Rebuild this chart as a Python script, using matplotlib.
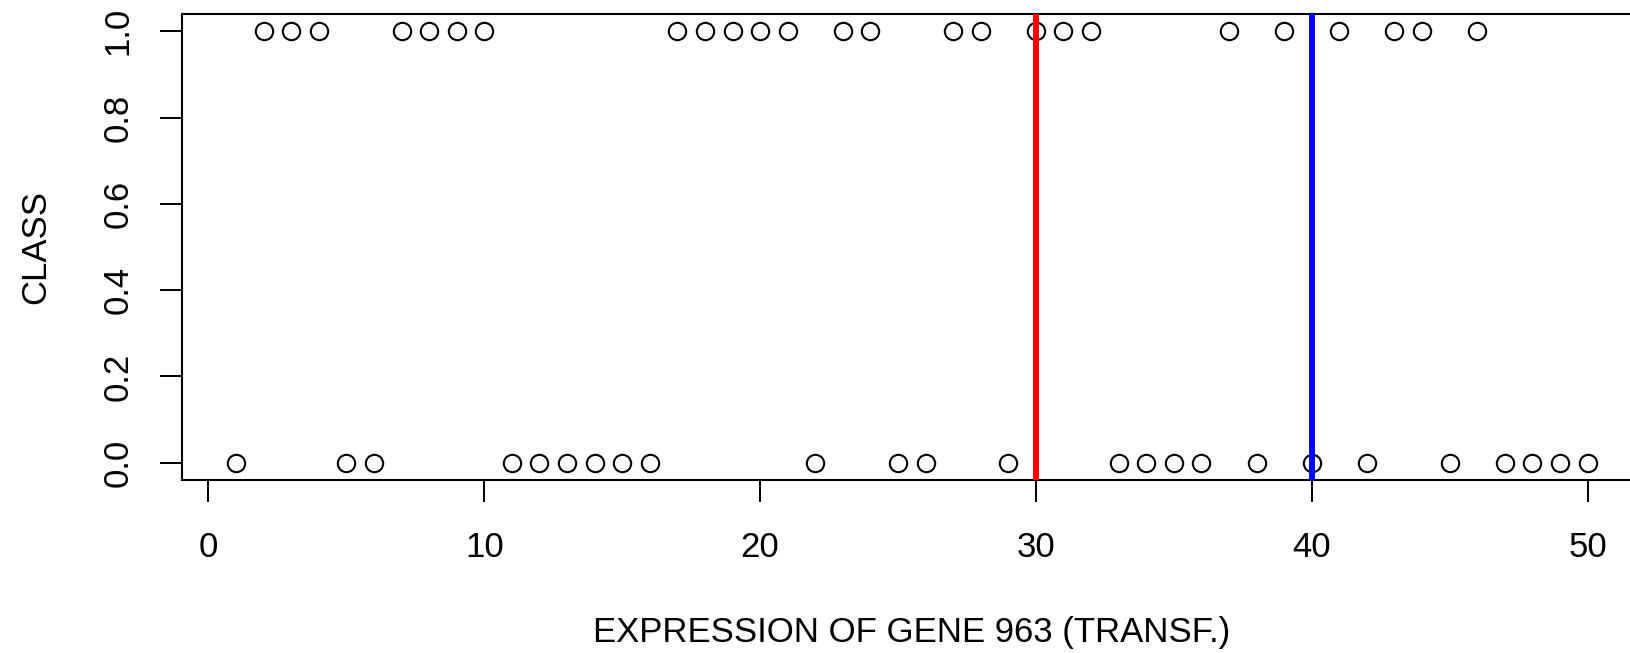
import matplotlib
matplotlib.use("Agg")
import matplotlib.pyplot as plt

x_values = list(range(1, 51))
class_one = [2, 3, 4, 7, 8, 9, 10, 17, 18, 19, 20, 21, 23, 24, 27, 28, 30, 31, 32,
             37, 39, 41, 43, 44, 46]
y_values = [1 if v in class_one else 0 for v in x_values]
red_line = 30
blue_line = 40
x_ticks = [0, 10, 20, 30, 40, 50]
y_ticks = [0.0, 0.2, 0.4, 0.6, 0.8, 1.0]

plt.rcParams['font.family'] = ['Liberation Sans', 'DejaVu Sans']

W, H = 1630, 653
fig = plt.figure(figsize=(W / 100, H / 100), dpi=100)
x0 = -0.96
x1 = 51.96
left_px = 182
right_px = 1641.6
ax = fig.add_axes([left_px / W, 1 - 480 / H, (right_px - left_px) / W, (480 - 14) / H])
ax.plot(x_values, y_values, linestyle='none', marker='o', ms=12.5, mfc='none',
        mec='black', mew=1.5, clip_on=False, zorder=2)
ax.axvline(red_line, color='#ff0000', lw=4.3, zorder=3)
ax.axvline(blue_line, color='#0000ff', lw=4.3, zorder=3)
ax.set_xlim(x0, x1)
ax.set_ylim(-0.04, 1.04)
ax.set_xticks(x_ticks)
ax.set_yticks(y_ticks)
ax.set_yticklabels([f"{v:.1f}" for v in y_ticks], rotation=90, va='center')
ax.tick_params(axis='both', length=16, width=1.4, labelsize=25)
ax.tick_params(axis='x', pad=21)
ax.tick_params(axis='y', pad=18)
for s in ax.spines.values():
    s.set_linewidth(1.5)
ax.set_xlabel("EXPRESSION OF GENE 963 (TRANSF.)", fontsize=25, labelpad=37)
ax.set_ylabel("CLASS", fontsize=25, labelpad=36)
fig.savefig("out.png", dpi=100)
